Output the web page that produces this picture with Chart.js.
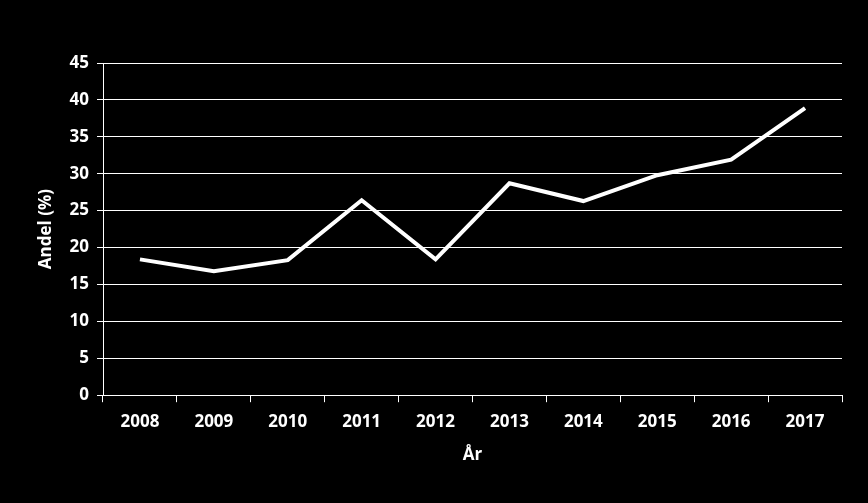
<!DOCTYPE html>
<html>
<head>
<meta charset="utf-8">
<script src="https://cdn.jsdelivr.net/npm/chart.js@4/dist/chart.umd.min.js"></script>
<style>
  html, body { margin: 0; padding: 0; background: #000; }
  #wrap { width: 868px; height: 503px; }
</style>
</head>
<body>
<div id="wrap"><canvas id="lineChart" width="868" height="503"></canvas></div>
<script>
// data
var years = ['2008', '2009', '2010', '2011', '2012', '2013', '2014', '2015', '2016', '2017'];
var andel = [18.4, 16.8, 18.3, 26.4, 18.4, 28.7, 26.3, 29.8, 31.9, 38.9];

var fontLabel = { family: "'Open Sans', 'DejaVu Sans', sans-serif", size: 17, weight: 'bold' };

var ctx = document.getElementById('lineChart').getContext('2d');
var lineChart = new Chart(ctx, {
    type: 'line',
    data: {
        labels: years,
        datasets: [{
            data: andel,
            borderColor: '#ffffff',
            borderWidth: 4,
            pointRadius: 0,
            tension: 0,
            fill: false
        }]
    },
    options: {
        responsive: false,
        animation: false,
        layout: { padding: { left: 36, right: 26, top: 63, bottom: 34 } },
        plugins: {
            legend: { display: false },
            tooltip: { enabled: false }
        },
        scales: {
            x: {
                offset: true,
                grid: {
                    offset: true,
                    drawOnChartArea: false,
                    drawTicks: true,
                    tickLength: 7,
                    color: '#ffffff'
                },
                border: { color: '#ffffff', width: 1 },
                ticks: { color: '#ffffff', font: fontLabel, padding: 10, maxRotation: 0 },
                title: { display: true, text: 'År', color: '#ffffff', font: fontLabel, padding: { top: 2 } }
            },
            y: {
                min: 0,
                max: 45,
                afterFit: function(scale) { scale.width = 67; },
                grid: {
                    color: '#ffffff',
                    lineWidth: 1,
                    drawTicks: true,
                    tickLength: 6
                },
                border: { color: '#ffffff', width: 1 },
                ticks: { stepSize: 5, color: '#ffffff', font: fontLabel, padding: 8 },
                title: { display: true, text: 'Andel (%)', color: '#ffffff', font: fontLabel, padding: 0 }
            }
        }
    }
});
</script>
</body>
</html>
